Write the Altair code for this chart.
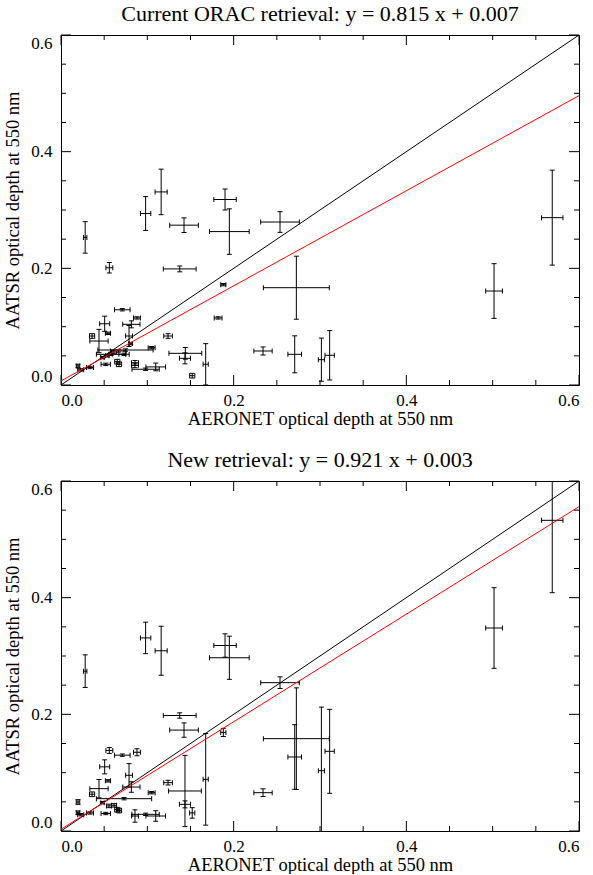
import altair as alt
import pandas as pd

# ---------------- data ----------------
# Top panel: current ORAC retrieval
top_x = [0.028, 0.056, 0.098, 0.116, 0.1425, 0.190, 0.195, 0.1375, 0.188, 0.071,
         0.182, 0.088, 0.0506, 0.0815, 0.0544, 0.036, 0.044, 0.0788, 0.0807, 0.124,
         0.0747, 0.058, 0.048, 0.0536, 0.0575, 0.0614, 0.0518, 0.0652, 0.0672, 0.0857,
         0.0857, 0.098, 0.1097, 0.0664, 0.073, 0.105, 0.144, 0.1436, 0.152, 0.1676,
         0.2537, 0.2726, 0.234, 0.2707, 0.3016, 0.3112, 0.5016, 0.569, 0.0197, 0.0228,
         0.0336]
top_xerr = [0.002, 0.004, 0.006, 0.007, 0.0166, 0.013, 0.023, 0.019, 0.003, 0.009,
            0.0045, 0.004, 0.0058, 0.010, 0.003, 0.003, 0.0106, 0.004, 0.002, 0.005,
            0.032, 0.017, 0.002, 0.002, 0.002, 0.003, 0.0054, 0.003, 0.003, 0.004,
            0.004, 0.0158, 0.0114, 0.009, 0.006, 0.004, 0.019, 0.0064, 0.003, 0.003,
            0.0224, 0.0382, 0.0106, 0.0079, 0.0035, 0.0054, 0.0097, 0.0124, 0.002, 0.0035,
            0.004]
top_y = [0.253, 0.201, 0.294, 0.331, 0.274, 0.318, 0.263, 0.199, 0.172, 0.129,
         0.115, 0.115, 0.105, 0.104, 0.0886, 0.084, 0.0754, 0.084, 0.071, 0.084,
         0.060, 0.0526, 0.047, 0.050, 0.0526, 0.0566, 0.0355, 0.040, 0.0355, 0.038,
         0.0337, 0.027, 0.031, 0.0583, 0.0526, 0.064, 0.0543, 0.0457, 0.0160, 0.0355,
         0.2794, 0.1668, 0.0583, 0.0526, 0.0434, 0.0509, 0.1611, 0.2869, 0.0326, 0.026,
         0.030]
top_yerr = [0.027, 0.009, 0.029, 0.039, 0.0126, 0.018, 0.039, 0.005, 0.002, 0.002,
            0.002, 0.002, 0.013, 0.006, 0.002, 0.004, 0.020, 0.018, 0.002, 0.004,
            0.002, 0.002, 0.002, 0.002, 0.002, 0.003, 0.002, 0.004, 0.004, 0.004,
            0.004, 0.002, 0.0066, 0.002, 0.002, 0.002, 0.010, 0.0094, 0.004, 0.0354,
            0.0177, 0.054, 0.0069, 0.0317, 0.037, 0.0423, 0.0469, 0.0814, 0.003, 0.002,
            0.002]

# Bottom panel: new retrieval
bot_x = [0.028, 0.098, 0.116, 0.190, 0.195, 0.1375, 0.1425, 0.188, 0.056, 0.071,
         0.088, 0.0506, 0.0544, 0.0788, 0.0815, 0.044, 0.036, 0.0197, 0.0197, 0.0228,
         0.0336, 0.0518, 0.048, 0.0556, 0.0614, 0.0652, 0.0672, 0.073, 0.105, 0.124,
         0.0857, 0.098, 0.1097, 0.1436, 0.1436, 0.152, 0.1676, 0.2537, 0.2726, 0.234,
         0.2707, 0.3016, 0.3112, 0.5016, 0.569]
bot_xerr = [0.002, 0.006, 0.007, 0.013, 0.023, 0.019, 0.0166, 0.003, 0.004, 0.009,
            0.004, 0.0058, 0.003, 0.004, 0.010, 0.0106, 0.003, 0.002, 0.002, 0.0035,
            0.004, 0.0054, 0.002, 0.003, 0.003, 0.003, 0.003, 0.032, 0.004, 0.005,
            0.004, 0.0158, 0.0114, 0.019, 0.0064, 0.003, 0.003, 0.0224, 0.0382, 0.0106,
            0.0079, 0.0035, 0.0054, 0.0097, 0.0124]
bot_y = [0.274, 0.331, 0.309, 0.318, 0.297, 0.198, 0.173, 0.169, 0.138, 0.130,
         0.135, 0.110, 0.086, 0.0955, 0.0754, 0.0726, 0.063, 0.0497, 0.0314, 0.028,
         0.031, 0.030, 0.0486, 0.043, 0.044, 0.0366, 0.035, 0.0554, 0.0657, 0.0829,
         0.0257, 0.0286, 0.0257, 0.0686, 0.0457, 0.031, 0.0886, 0.2543, 0.1583, 0.0657,
         0.1269, 0.1034, 0.1366, 0.348, 0.5326]
bot_yerr = [0.028, 0.027, 0.042, 0.020, 0.037, 0.0046, 0.0123, 0.007, 0.005, 0.002,
            0.006, 0.012, 0.002, 0.020, 0.009, 0.0157, 0.004, 0.004, 0.003, 0.002,
            0.002, 0.002, 0.002, 0.003, 0.003, 0.004, 0.004, 0.002, 0.002, 0.004,
            0.0106, 0.002, 0.009, 0.061, 0.006, 0.009, 0.0786, 0.010, 0.0871, 0.0066,
            0.0554, 0.109, 0.072, 0.0691, 0.124]

# one-to-one line and fitted lines (end points)
one_x = [0.0, 0.6]
one_y = [0.0, 0.6]
top_fit_y = [0.007, 0.496]
bot_fit_y = [0.003, 0.556]

titles = ["Current ORAC retrieval: y = 0.815 x + 0.007",
          "New retrieval: y = 0.921 x + 0.003"]
x_title = "AERONET optical depth at 550 nm"
y_title = "AATSR optical depth at 550 nm"

major_ticks = [0.0, 0.2, 0.4, 0.6]
minor_ticks = [0.05, 0.1, 0.15, 0.25, 0.3, 0.35, 0.45, 0.5, 0.55]

# ---------------- styling ----------------
W, H = 518, 350
FONT = "Liberation Serif"
MAJ, MIN = 10, 5
CAP = 5

X_AXIS = alt.Axis(values=major_ticks, format=".1f", ticks=False, domain=False,
                  grid=False, labelFont=FONT, labelFontSize=17, labelColor="black",
                  labelPadding=7, title=x_title, titleFont=FONT,
                  titleFontSize=18.5, titleFontWeight="normal", titleColor="black",
                  titlePadding=1)
Y_AXIS = alt.Axis(values=major_ticks, format=".1f", ticks=False, domain=False,
                  grid=False, labelFont=FONT, labelFontSize=17, labelColor="black",
                  labelPadding=9, labelFlush=True, title=y_title, titleFont=FONT,
                  titleFontSize=18.5, titleFontWeight="normal", titleColor="black",
                  titlePadding=8)
SX = alt.Scale(domain=[0, 0.6], nice=False, zero=False)
SY = alt.Scale(domain=[0, 0.6], nice=False, zero=False)


def X(f):
    return alt.X(f, type="quantitative", scale=SX, axis=X_AXIS)


def Y(f):
    return alt.Y(f, type="quantitative", scale=SY, axis=Y_AXIS)


def panel(xs_, xe_, ys_, ye_, fit_y, title):
    df = pd.DataFrame({"x": xs_, "xe": xe_, "y": ys_, "ye": ye_})
    df["xlo"] = df.x - df.xe
    df["xhi"] = df.x + df.xe
    df["ylo"] = df.y - df.ye
    df["yhi"] = df.y + df.ye

    base = alt.Chart(df)
    vbar = base.mark_rule(color="black", strokeWidth=1, clip=True).encode(
        x=X("x"), y=Y("ylo"), y2="yhi:Q")
    hbar = base.mark_rule(color="black", strokeWidth=1, clip=True).encode(
        x=X("xlo"), x2="xhi:Q", y=Y("y"))
    tick_kw = dict(color="black", size=CAP, thickness=1, opacity=1, clip=True)
    cap_lo = base.mark_tick(orient="horizontal", **tick_kw).encode(x=X("x"), y=Y("ylo"))
    cap_hi = base.mark_tick(orient="horizontal", **tick_kw).encode(x=X("x"), y=Y("yhi"))
    cap_l = base.mark_tick(orient="vertical", **tick_kw).encode(x=X("xlo"), y=Y("y"))
    cap_r = base.mark_tick(orient="vertical", **tick_kw).encode(x=X("xhi"), y=Y("y"))

    lines_df = pd.DataFrame({"lx": one_x, "one": one_y, "fit": fit_y})
    lbase = alt.Chart(lines_df)
    one_line = lbase.mark_line(color="black", strokeWidth=1, clip=True).encode(
        x=X("lx"), y=Y("one"))
    fit_line = lbase.mark_line(color="#ff0000", strokeWidth=1, clip=True).encode(
        x=X("lx"), y=Y("fit"))

    tmaj = alt.Chart(pd.DataFrame({"t": major_ticks}))
    tmin = alt.Chart(pd.DataFrame({"t": minor_ticks}))
    tick_layers = []
    for tb, L in ((tmaj, MAJ), (tmin, MIN)):
        tick_layers += [
            tb.mark_rule(color="black", strokeWidth=1).encode(
                x=X("t"), y=alt.value(H), y2=alt.value(H - L)),
            tb.mark_rule(color="black", strokeWidth=1).encode(
                x=X("t"), y=alt.value(0), y2=alt.value(L)),
            tb.mark_rule(color="black", strokeWidth=1).encode(
                y=Y("t"), x=alt.value(0), x2=alt.value(L)),
            tb.mark_rule(color="black", strokeWidth=1).encode(
                y=Y("t"), x=alt.value(W), x2=alt.value(W - L)),
        ]

    return alt.layer(vbar, hbar, cap_lo, cap_hi, cap_l, cap_r, *tick_layers,
                     one_line, fit_line).properties(
        width=W, height=H,
        title=alt.TitleParams(title, font=FONT, fontSize=22, fontWeight="normal",
                              color="black", anchor="middle", offset=8),
    )


top = panel(top_x, top_xerr, top_y, top_yerr, top_fit_y, titles[0])
bot = panel(bot_x, bot_xerr, bot_y, bot_yerr, bot_fit_y, titles[1])

chart = alt.vconcat(top, bot, spacing=20).properties(
    padding={"left": 3, "top": 2, "right": 5, "bottom": 0},
    background="white",
).configure_view(stroke="black", strokeWidth=1)

chart.save("out.html", embed_options={"renderer": "svg", "actions": False})
